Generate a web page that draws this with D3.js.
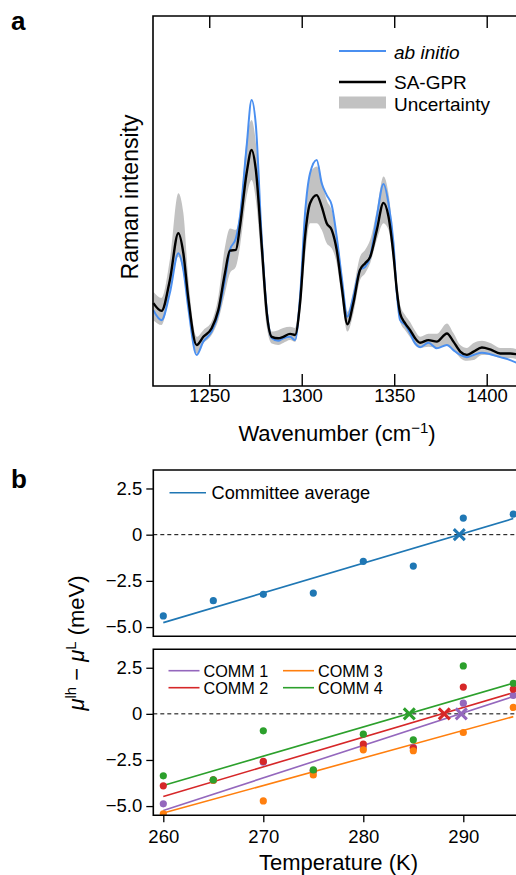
<!DOCTYPE html>
<html>
<head>
<meta charset="utf-8">
<script src="https://cdn.jsdelivr.net/npm/d3@7"></script>
<style>
  html, body { margin: 0; padding: 0; background: #fff; }
  svg { display: block; font-family: "Liberation Sans", Arial, Helvetica, sans-serif; }
</style>
</head>
<body>
<svg id="fig" width="516" height="875"></svg>
<script>
// ---------- Panel a: Raman spectra ----------
const wavenumber = [1219.8, 1224.2, 1228.7, 1233.3, 1236.0, 1238.6, 1243.2, 1246.8, 1251.3, 1254.9,
  1258.5, 1261.2, 1264.4, 1266.6, 1270.2, 1272.9, 1275.2, 1278.4, 1281.1, 1283.8,
  1287.3, 1290.0, 1293.7, 1296.4, 1299.1, 1301.8, 1304.5, 1308.1, 1310.8, 1313.5,
  1316.2, 1318.9, 1321.6, 1324.7, 1327.9, 1331.5, 1334.3, 1337.0, 1340.6, 1344.2,
  1346.9, 1349.6, 1351.4, 1353.2, 1355.9, 1358.6, 1361.3, 1364.0, 1368.5, 1373.0,
  1378.5, 1382.0, 1385.7, 1389.3, 1392.9, 1397.4, 1401.9, 1407.3, 1412.7, 1416.0];
const abInitio = [20.5, 17.8, 25.1, 35.9, 31.4, 21.4, 8.4, 12.0, 14.7, 19.6,
  28.6, 36.8, 39.9, 45.8, 64.7, 77.3, 70.5, 39.5, 20.5, 13.0,
  12.2, 12.9, 13.3, 12.4, 24.1, 46.7, 57.5, 61.1, 54.8, 51.6,
  48.9, 40.4, 29.5, 18.7, 24.1, 31.4, 32.2, 34.9, 45.8, 54.6,
  49.4, 38.6, 25.1, 17.8, 16.5, 14.2, 11.5, 10.5, 11.7, 10.2,
  11.1, 9.7, 8.4, 7.8, 8.4, 9.0, 8.6, 7.8, 7.0, 6.3];
const saGpr = [22.4, 20.3, 28.6, 41.3, 35.9, 24.1, 11.1, 13.3, 15.6, 20.5,
  30.5, 36.6, 36.8, 43.1, 57.5, 63.8, 58.4, 37.6, 19.7, 13.3,
  12.9, 13.3, 14.1, 13.8, 22.4, 40.4, 49.4, 51.6, 48.5, 44.0,
  42.2, 36.8, 26.8, 16.7, 22.4, 31.4, 33.2, 34.9, 42.2, 49.5,
  45.8, 35.4, 25.9, 19.6, 16.9, 15.1, 12.9, 11.7, 12.4, 12.0,
  14.2, 12.0, 9.3, 8.4, 9.3, 10.4, 9.9, 8.8, 8.8, 8.6];
const uncertaintyLow = [17.8, 16.5, 25.1, 34.9, 30.5, 21.4, 8.8, 11.5, 13.8, 17.8,
  25.1, 30.5, 32.2, 37.6, 51.2, 55.7, 50.3, 32.2, 16.0, 11.5,
  11.1, 11.6, 12.4, 11.9, 19.6, 34.9, 44.0, 44.0, 42.2, 38.6,
  37.2, 33.2, 24.1, 14.7, 19.6, 28.6, 30.5, 33.2, 39.5, 44.0,
  42.2, 32.7, 23.2, 17.3, 15.1, 13.2, 11.1, 10.3, 10.6, 10.3,
  11.1, 9.7, 7.6, 6.8, 7.0, 8.4, 8.4, 7.6, 7.6, 7.3];
const uncertaintyHigh = [25.5, 23.8, 34.1, 52.1, 46.8, 29.5, 13.3, 15.1, 17.4, 24.1,
  37.6, 42.6, 42.2, 46.7, 66.5, 71.9, 65.7, 44.0, 23.2, 14.7,
  15.1, 15.7, 16.0, 15.7, 26.8, 45.8, 57.5, 59.3, 55.7, 50.3,
  47.6, 41.3, 30.5, 20.1, 25.9, 34.9, 36.8, 39.5, 47.6, 56.6,
  52.1, 39.5, 28.6, 21.9, 19.2, 17.3, 14.9, 13.3, 14.1, 14.1,
  16.9, 14.3, 11.1, 10.3, 11.6, 12.2, 11.6, 10.3, 10.3, 10.0];
const wavenumberTicks = [1250, 1300, 1350, 1400];
const spectrumLegend = ["ab initio", "SA-GPR", "Uncertainty"];

// ---------- Panel b: chemical potential difference vs temperature ----------
const temperature = [260, 265, 270, 275, 280, 285, 290, 295];
const committeeAverage = [-4.40, -3.57, -3.23, -3.16, -1.44, -1.70, 0.90, 1.11];
const averageFit = [-4.76, 0.87];          // fitted values at 260 K and 295 K
const averageCrossing = 289.6;             // temperature where the fit crosses zero

const commNames = ["COMM 1", "COMM 2", "COMM 3", "COMM 4"];
const comm1 = [-4.88, -3.60, -2.62, -3.10, -1.77, -1.81, 0.58, 1.00];
const comm2 = [-3.90, -3.58, -2.58, -3.08, -1.64, -1.85, 1.45, 1.34];
const comm3 = [-5.42, -3.60, -4.72, -3.31, -1.95, -2.00, -1.01, 0.35];
const comm4 = [-3.36, -3.58, -0.92, -3.04, -1.10, -1.41, 2.60, 1.66];
const commFits = [[-5.24, 0.94], [-4.48, 1.15], [-5.38, -0.15], [-3.88, 1.66]];
const commCrossings = [289.8, 288.1, null, 284.6];
const commColors = ["#9467bd", "#d62728", "#ff7f0e", "#2ca02c"];
const averageColor = "#1f77b4";
const fitRange = [260, 295];
const muTicks = [-5, -2.5, 0, 2.5];
const temperatureTicks = [260, 270, 280, 290];

const svg = d3.select("#fig");
const FONT_TICK = 18.5;
const FONT_TITLE = 22;

// ===== Panel a =====
const aLeft = 153, aTop = 16, aBottom = 386, aRight = 530;
const xA = d3.scaleLinear().domain([1219.6, 1423.4]).range([aLeft, aRight]);
const yA = d3.scaleLinear().domain([0, 100]).range([aBottom, aTop]);

const gA = svg.append("g");
const spec = wavenumber.map((w, i) => ({
  w, ab: abInitio[i], sa: saGpr[i], lo: uncertaintyLow[i], hi: uncertaintyHigh[i]
}));

gA.append("path")
  .datum(spec)
  .attr("fill", "#c2c2c2")
  .attr("d", d3.area().curve(d3.curveMonotoneX)
    .x(d => xA(d.w)).y0(d => yA(d.lo)).y1(d => yA(d.hi)));

gA.append("path")
  .datum(spec)
  .attr("fill", "none").attr("stroke", "#4a8ff0").attr("stroke-width", 2)
  .attr("d", d3.line().curve(d3.curveMonotoneX).x(d => xA(d.w)).y(d => yA(d.ab)));

gA.append("path")
  .datum(spec)
  .attr("fill", "none").attr("stroke", "#000").attr("stroke-width", 2.4)
  .attr("d", d3.line().curve(d3.curveMonotoneX).x(d => xA(d.w)).y(d => yA(d.sa)));

// frame (right side runs past the canvas)
gA.append("path")
  .attr("fill", "none").attr("stroke", "#000").attr("stroke-width", 1.6)
  .attr("d", `M${aRight},${aTop}H${aLeft}V${aBottom}H${aRight}`);

const axA = gA.append("g").attr("transform", `translate(0,${aBottom})`)
  .call(d3.axisBottom(xA).tickValues(wavenumberTicks).tickSize(-12).tickPadding(2.5).tickFormat(d3.format("d")));
axA.select(".domain").remove();
axA.selectAll("line").attr("stroke-width", 1.4);
axA.selectAll("text").attr("font-size", FONT_TICK).attr("font-family", null).attr("fill", "#000");

const axATop = gA.append("g").attr("transform", `translate(0,${aTop})`)
  .call(d3.axisTop(xA).tickValues(wavenumberTicks).tickSize(-12).tickFormat(""));
axATop.select(".domain").remove();
axATop.selectAll("line").attr("stroke-width", 1.4);

const wt = gA.append("text").attr("x", 337).attr("y", 441)
  .attr("text-anchor", "middle").attr("font-size", FONT_TITLE);
wt.append("tspan").text("Wavenumber (cm");
wt.append("tspan").attr("dy", -8).attr("font-size", 15).text("−1");
wt.append("tspan").attr("dy", 8).text(")");

gA.append("text")
  .attr("transform", "translate(138,197) rotate(-90)")
  .attr("text-anchor", "middle").attr("font-size", 23)
  .text("Raman intensity");

// legend
const legA = gA.append("g");
legA.append("line").attr("x1", 339).attr("x2", 386).attr("y1", 51).attr("y2", 51)
  .attr("stroke", "#4a8ff0").attr("stroke-width", 2.2);
legA.append("text").attr("x", 394).attr("y", 59).attr("font-size", 19)
  .attr("font-style", "italic").text(spectrumLegend[0]);
legA.append("line").attr("x1", 339).attr("x2", 386).attr("y1", 82).attr("y2", 82)
  .attr("stroke", "#000").attr("stroke-width", 2.4);
legA.append("text").attr("x", 394).attr("y", 89).attr("font-size", 19).text(spectrumLegend[1]);
legA.append("rect").attr("x", 339).attr("y", 96.5).attr("width", 47).attr("height", 12)
  .attr("fill", "#c2c2c2");
legA.append("text").attr("x", 394).attr("y", 110.5).attr("font-size", 19).text(spectrumLegend[2]);

svg.append("text").attr("x", 11).attr("y", 30).attr("font-size", 26)
  .attr("font-weight", "bold").text("a");

// ===== Panel b =====
svg.append("text").attr("x", 11).attr("y", 488).attr("font-size", 26)
  .attr("font-weight", "bold").text("b");

const bLeft = 153.3, bRight = 540;
const xB = d3.scaleLinear().domain([259, 259 + (bRight - bLeft) / 10]).range([bLeft, bRight]);

function subplot(top, bottom) {
  const y = d3.scaleLinear().domain([-5.5, 3.5]).range([bottom, top]);
  const g = svg.append("g");
  // zero reference line
  g.append("line").attr("x1", bLeft).attr("x2", bRight).attr("y1", y(0)).attr("y2", y(0))
    .attr("stroke", "#000").attr("stroke-width", 1).attr("stroke-dasharray", "4,3");
  const ax = g.append("g").attr("transform", `translate(${bLeft},0)`)
    .call(d3.axisLeft(y).tickValues(muTicks).tickSize(7).tickPadding(4)
      .tickFormat(d => d === 0 ? "0" : d3.format(".1f")(d)));
  ax.select(".domain").remove();
  ax.selectAll("line").attr("stroke-width", 1.3);
  ax.selectAll("text").attr("font-size", FONT_TICK).attr("font-family", null).attr("fill", "#000");
  return { g, y, top, bottom };
}

function frame(p) {
  p.g.append("path").attr("fill", "none").attr("stroke", "#000").attr("stroke-width", 1.6)
    .attr("d", `M${bRight},${p.top}H${bLeft}V${p.bottom}H${bRight}`);
}

function crossMark(g, cx, cy, color) {
  const s = 5.5;
  g.append("path").attr("fill", "none").attr("stroke", color).attr("stroke-width", 3)
    .attr("d", `M${cx - s},${cy - s}L${cx + s},${cy + s}M${cx - s},${cy + s}L${cx + s},${cy - s}`);
}

// upper: committee average
const pTop = subplot(470, 636.3);
pTop.g.append("line")
  .attr("x1", xB(fitRange[0])).attr("x2", xB(fitRange[1]))
  .attr("y1", pTop.y(averageFit[0])).attr("y2", pTop.y(averageFit[1]))
  .attr("stroke", averageColor).attr("stroke-width", 1.6);
pTop.g.selectAll("circle.avg").data(temperature).join("circle")
  .attr("class", "avg")
  .attr("cx", d => xB(d)).attr("cy", (d, i) => pTop.y(committeeAverage[i]))
  .attr("r", 3.6).attr("fill", averageColor);
crossMark(pTop.g, xB(averageCrossing), pTop.y(0), averageColor);
frame(pTop);
pTop.g.append("line").attr("x1", 169.5).attr("x2", 206).attr("y1", 492.7).attr("y2", 492.7)
  .attr("stroke", averageColor).attr("stroke-width", 1.6);
pTop.g.append("text").attr("x", 211.5).attr("y", 499).attr("font-size", 18.2).text("Committee average");

// lower: individual committees
const pBot = subplot(649.3, 815.3);
const commSeries = [comm1, comm2, comm3, comm4];
const clip = svg.append("clipPath").attr("id", "clipB")
  .append("rect").attr("x", bLeft).attr("y", 649.3).attr("width", bRight - bLeft).attr("height", 166);
const dataB = pBot.g.append("g").attr("clip-path", "url(#clipB)");
commSeries.forEach((vals, k) => {
  dataB.append("line")
    .attr("x1", xB(fitRange[0])).attr("x2", xB(fitRange[1]))
    .attr("y1", pBot.y(commFits[k][0])).attr("y2", pBot.y(commFits[k][1]))
    .attr("stroke", commColors[k]).attr("stroke-width", 1.6);
});
commSeries.forEach((vals, k) => {
  dataB.selectAll(`circle.c${k}`).data(temperature).join("circle")
    .attr("class", `c${k}`)
    .attr("cx", d => xB(d)).attr("cy", (d, i) => pBot.y(vals[i]))
    .attr("r", 3.6).attr("fill", commColors[k]);
});
commCrossings.forEach((t, k) => {
  if (t !== null) crossMark(dataB, xB(t), pBot.y(0), commColors[k]);
});
frame(pBot);

const axB = pBot.g.append("g").attr("transform", `translate(0,${pBot.bottom})`)
  .call(d3.axisBottom(xB).tickValues(temperatureTicks).tickSize(7).tickPadding(8).tickFormat(d3.format("d")));
axB.select(".domain").remove();
axB.selectAll("line").attr("stroke-width", 1.3);
axB.selectAll("text").attr("font-size", FONT_TICK).attr("font-family", null).attr("fill", "#000");

// legend, two columns
const legPos = [[168.5, 670.7], [168.5, 687.7], [283, 670.7], [283, 687.7]];
commNames.forEach((name, k) => {
  const [lx, ly] = legPos[k];
  pBot.g.append("line").attr("x1", lx).attr("x2", lx + 31).attr("y1", ly).attr("y2", ly)
    .attr("stroke", commColors[k]).attr("stroke-width", 1.6);
  pBot.g.append("text").attr("x", lx + 35).attr("y", ly + 6).attr("font-size", 16.2).text(name);
});

svg.append("text").attr("x", 338.5).attr("y", 870).attr("text-anchor", "middle")
  .attr("font-size", FONT_TITLE).text("Temperature (K)");

// shared y label
const yl = svg.append("text")
  .attr("transform", "translate(84,643) rotate(-90)")
  .attr("text-anchor", "middle").attr("font-size", FONT_TITLE);
yl.append("tspan").attr("font-style", "italic").text("μ");
yl.append("tspan").attr("dy", -8).attr("font-size", 15).text("lh");
yl.append("tspan").attr("dy", 8).text(" − ");
yl.append("tspan").attr("font-style", "italic").text("μ");
yl.append("tspan").attr("dy", -8).attr("font-size", 15).text("L");
yl.append("tspan").attr("dy", 8).text(" (meV)");
</script>
</body>
</html>
